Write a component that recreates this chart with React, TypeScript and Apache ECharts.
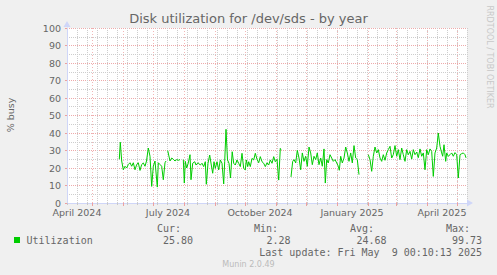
import React, { useEffect, useRef } from "react";
import * as echarts from "echarts";

// ---- data ----
const START_DATE = "2024-04-06"; // left edge of the plot
const SPAN_DAYS = 400;

const monthStarts = [
  "2024-05-01", "2024-06-01", "2024-07-01", "2024-08-01", "2024-09-01", "2024-10-01",
  "2024-11-01", "2024-12-01", "2025-01-01", "2025-02-01", "2025-03-01", "2025-04-01", "2025-05-01",
];
const quarterStarts = ["2024-04-01", "2024-07-01", "2024-10-01", "2025-01-01", "2025-04-01"];
const quarterNames = ["April 2024", "July 2024", "October 2024", "January 2025", "April 2025"];

// day offsets from START_DATE and % busy (null = no data)
const days = [
  52.3, 53.3, 54.7, 56.3, 58, 59.7, 61.3, 63, 64.7, 66.3, 68, 69.7, 71.3, 73, 74.7, 76.3, 78, 79.5,
  81.3, 83, 84.7, 86.3, 88, 90.3, 91.3, 93, 94.7, 96.3, 98, 99, 99.8,
  100.7, 103, 104.7, 106.3, 108, 109.7, 111.3, 113, 114.6,
  116.3, 117.3, 118.3, 119.7, 121.3, 123, 124, 125.7, 127.7, 129, 131, 133.3, 135, 136.7, 138.3,
  139.3, 141, 142.7, 144.3, 145.7, 147, 148.3, 150, 151.7, 153.3, 155, 156.7, 157.7, 159, 160.5,
  162, 163.5, 165.2, 166.7, 168.3, 170, 171.7, 173.3, 175, 176.7, 178.3, 179.3, 180.7, 181.7,
  183.3, 185, 186.7, 188.3, 190, 191.7, 193.3, 195, 196.7, 198.3, 200, 201.7, 203.3, 205, 206.7,
  208.3, 210, 211.7, 213.3, 214, 219,
  224, 225.7, 227, 228.7, 230.3, 232, 233.7, 235.3, 237, 238.7, 240.3, 242, 243.7, 245.3, 247,
  248.7, 250.3, 252, 253.7, 255.3, 257, 258.3, 259.7, 261.3, 263, 264.7, 266.3, 268, 269.7, 271.3,
  272.3, 273.7, 275.3, 277, 278.7, 280.3, 282, 283.7, 285.3, 287, 288.7, 290.3, 292, 296,
  301.3, 303, 304.7, 306.3, 308, 309.7, 311.3, 313, 314.7, 316.3, 318, 319.7, 321.3, 323, 324.7,
  326.3, 328, 329.7, 331.3, 333, 334.7, 336.3, 338, 339.7, 341.3, 343, 344.7, 346.3, 348, 349.7,
  351.3, 353, 354.7, 356.3, 358, 359.7, 361.3, 363, 364.7, 366.3, 368, 369.7, 371.3, 373, 374.7,
  375.7, 377, 378.7, 379.7, 381.3, 383, 384.7, 386.3, 388, 389.7, 391.3, 393, 394.7, 396.3, 398, 399,
];
const utilization = [
  25, 34.7, 24, 19, 21, 20, 22, 23, 21, 23, 19, 22, 23, 18.6, 22, 22.9, 21, 24,
  31.4, 26.7, 9.5, 21, 24, 9.1, 23, 22, 21, 13.3, 23, 24, null,
  30, 24, 25.7, 25, 24, 24.8, 24.4, 24.8, null,
  24.8, 11.4, 23.8, 20, 22.9, 27.6, 13.3, 22.7, 23.6, 21.7, 23, 21.7, 22.7, 20.8, 23.6,
  10.7, 22.7, 27.4, 21.7, 17, 23.6, 19.8, 23.6, 18.9, 24.6, 22.7, 10.9, 23.6, 42.1, 24.6,
  22.7, 14.3, 29.3, 22.7, 21.7, 24.6, 22.7, 20.8, 28.4, 19.8, 18.9, 24.6, 20.8, 23.6,
  20.8, 25.5, 24.6, 28.4, 25, 23, 26.5, 23.6, 22.7, 20.8, 23, 21.7, 24.6, 22.7, 26.5,
  23.6, 25, 13.1, 31.2, 30.5, null,
  14.9, 23.8, 24.8, 22.9, 30.1, 25.7, 19, 28.6, 23.8, 26.7, 21, 32, 28.6, 21.9, 26.7,
  24.8, 28.6, 21.9, 25.7, 21, 30.9, 11.4, 24.8, 22.9, 27.6, 25.7, 23.8, 24.8, 22.9, 21,
  18.7, 26.7, 22.9, 25.7, 32, 28.6, 23.8, 28.6, 22.9, 32.8, 25.7, 24.8, 16.2, null,
  27.6, 24.8, 18.1, 26.7, 32, 28.6, 30.5, 25.7, 23.8, 27.6, 24.4, 28.6, 30.5, 32.4, 25.7,
  27.6, 32.8, 26.7, 30.5, 24.8, 31.4, 27.6, 23.8, 30.5, 27.6, 29.5, 25.1, 30.5, 27.6, 29.1,
  25.9, 30.9, 26.7, 28.6, 19, 30.5, 27.6, 30.9, 29.5, 15.2, 28.6, 31.4, 40, 32.4, 28.6,
  26.7, 33.3, 23.8, 28.6, 26.7, 27.6, 28.6, 26.7, 28.8, 27.6, 14.3, 27.6, 28.2, 28.6, 27.6, 25.8,
];

const statNames = ["Cur:", "Min:", "Avg:", "Max:"];
const statValues = ["25.80", "2.28", "24.68", "99.73"];
const seriesName = "Utilization";
const lastUpdate = "Last update: Fri May  9 00:10:13 2025";

const dayOf = (s: string) => (Date.parse(s) - Date.parse(START_DATE)) / 86400000;

export default function App() {
  const ref = useRef<HTMLDivElement>(null);
  useEffect(() => {
    if (!ref.current) return;
    const chart = echarts.init(ref.current, null, { renderer: "svg" });
    const monthOffsets = monthStarts.map(dayOf);
    const labelOffsets = quarterStarts.map((s) => dayOf(s) + 15);
    const labelFor = (v: number) => {
      const i = labelOffsets.findIndex((o) => Math.abs(o - v) < 0.01);
      return i >= 0 ? quarterNames[i] : "";
    };
    const font = "DejaVu Sans";
    const mono = "DejaVu Sans Mono";
    const textCol = "#666666";
    const minorCol = "#cdcdcd";
    const majorCol = "#eeaaaa";
    const axisCol = "#cfd6f8";

    const statX = [181, 278, 374, 470];
    const valX = [193, 290.5, 386.5, 482];
    const graphics: any[] = [
      { type: "rect", shape: { x: 14, y: 237, width: 6, height: 6 }, style: { fill: "#00cc00" } },
      { type: "text", x: 26.5, y: 240, style: { text: seriesName, font: `10px "${mono}"`, fill: textCol, align: "left", verticalAlign: "middle" } },
      { type: "text", x: 482, y: 252, style: { text: lastUpdate, font: `10px "${mono}"`, fill: textCol, align: "right", verticalAlign: "middle" } },
      { type: "text", x: 248.5, y: 264, style: { text: "Munin 2.0.49", font: `8px "${font}"`, fill: "#bbbbbb", align: "center", verticalAlign: "middle" } },
      { type: "text", x: 10, y: 115, rotation: Math.PI / 2, style: { text: "% busy", font: `9.5px "${font}"`, fill: textCol, align: "center", verticalAlign: "middle" } },
      { type: "text", x: 489, y: 57, rotation: -Math.PI / 2, style: { text: "RRDTOOL / TOBI OETIKER", font: `8px "${font}"`, fill: "#c8c8c8", align: "center", verticalAlign: "middle" } },
    ];
    statNames.forEach((n, i) => {
      graphics.push({ type: "text", x: statX[i], y: 228, style: { text: n, font: `10px "${mono}"`, fill: textCol, align: "right", verticalAlign: "middle" } });
      graphics.push({ type: "text", x: valX[i], y: 240, style: { text: statValues[i], font: `10px "${mono}"`, fill: textCol, align: "right", verticalAlign: "middle" } });
    });

    chart.setOption({
      animation: false,
      backgroundColor: "#f0f0f0",
      title: {
        text: "Disk utilization for /dev/sds - by year",
        left: "center",
        top: 12,
        padding: 0,
        textStyle: { fontFamily: font, fontSize: 13, fontWeight: "normal", color: textCol },
      },
      grid: {
        left: 67, top: 28, width: 400, height: 175,
        show: true, backgroundColor: "#ffffff", borderWidth: 0,
        containLabel: false, outerBoundsMode: "none",
      },
      xAxis: [
        {
          type: "value", min: 0, max: SPAN_DAYS, interval: 10,
          axisLine: {
            show: true, lineStyle: { color: axisCol, width: 1 },
            symbol: ["none", "triangle"], symbolSize: [7, 6], symbolOffset: [0, 3],
          },
          axisTick: { show: true, length: 2, lineStyle: { color: "#c8c8c8" } },
          axisLabel: { show: false },
          splitLine: { show: true, lineStyle: { color: minorCol, type: [1, 1], width: 1 } },
        },
        {
          type: "value", min: 0, max: SPAN_DAYS, position: "bottom",
          axisLine: { show: false },
          axisTick: { show: true, customValues: monthOffsets, length: 3, lineStyle: { color: "#eca0a0" } },
          axisLabel: {
            show: true, customValues: labelOffsets, formatter: (v: number) => labelFor(v),
            color: textCol, fontFamily: font, fontSize: 9.5, lineHeight: 9, margin: 5,
          },
          splitLine: { show: true, lineStyle: { color: majorCol, type: [1, 2], width: 1, opacity: 0.85 } },
        },
      ],
      yAxis: [
        {
          type: "value", min: 0, max: 100, interval: 5,
          axisLine: { show: false }, axisTick: { show: false }, axisLabel: { show: false },
          splitLine: { show: true, lineStyle: { color: minorCol, type: [1, 1], width: 1 } },
        },
        {
          type: "value", min: 0, max: 100, interval: 10, position: "left",
          axisLine: {
            show: true, lineStyle: { color: axisCol, width: 1 },
            symbol: ["none", "triangle"], symbolSize: [7, 6], symbolOffset: [0, 4],
          },
          axisTick: { show: true, length: 2, lineStyle: { color: "#eca0a0" } },
          axisLabel: { color: textCol, fontFamily: font, fontSize: 9.5, lineHeight: 9, margin: 6 },
          splitLine: { show: true, lineStyle: { color: majorCol, type: [1, 1], width: 1 } },
        },
      ],
      series: [
        {
          name: seriesName,
          type: "line",
          xAxisIndex: 0,
          yAxisIndex: 0,
          data: days.map((d, i) => [d, utilization[i]]),
          showSymbol: false,
          symbol: "none",
          connectNulls: false,
          lineStyle: { color: "#00cc00", width: 1 },
          z: 5,
        },
      ],
      graphic: graphics,
    });
    return () => chart.dispose();
  }, []);
  return <div ref={ref} style={{ position: "fixed", left: 0, top: 0, width: 497, height: 275 }} />;
}
